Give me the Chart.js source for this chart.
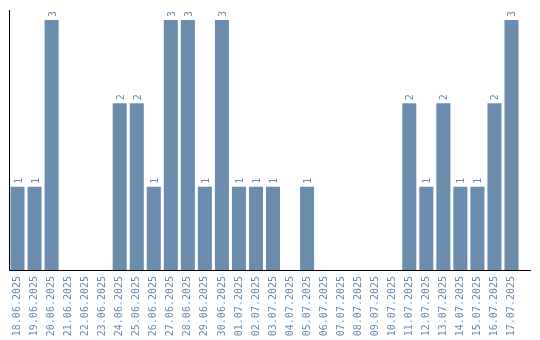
<!DOCTYPE html>
<html>
<head>
<meta charset="utf-8">
<script src="https://cdn.jsdelivr.net/npm/chart.js@4/dist/chart.umd.min.js"></script>
<style>
  html, body { margin: 0; padding: 0; background: #fff; }
  #wrap { width: 540px; height: 340px; position: relative; }
</style>
</head>
<body>
<div id="wrap"><canvas id="grafico"></canvas></div>
<script>
const fechas = ['18.06.2025', '19.06.2025', '20.06.2025', '21.06.2025', '22.06.2025', '23.06.2025',
  '24.06.2025', '25.06.2025', '26.06.2025', '27.06.2025', '28.06.2025', '29.06.2025', '30.06.2025',
  '01.07.2025', '02.07.2025', '03.07.2025', '04.07.2025', '05.07.2025', '06.07.2025', '07.07.2025',
  '08.07.2025', '09.07.2025', '10.07.2025', '11.07.2025', '12.07.2025', '13.07.2025', '14.07.2025',
  '15.07.2025', '16.07.2025', '17.07.2025'];
const cantidades = [1, 1, 3, 0, 0, 0, 2, 2, 1, 3, 3, 1, 3, 1, 1, 1, 0, 1, 0, 0, 0, 0, 0, 2, 1, 2, 1, 1, 2, 3];

const COLOR = '#6a8cad';
const FUENTE = 'DejaVu Sans Mono';

// etiquetas giradas encima de cada barra + eje x algo más largo
const etiquetasBarras = {
  id: 'etiquetasBarras',
  afterDatasetsDraw(chart) {
    const ctx = chart.ctx;
    const meta = chart.getDatasetMeta(0);
    ctx.save();
    ctx.fillStyle = COLOR;
    ctx.font = '10px ' + FUENTE;
    meta.data.forEach((bar, i) => {
      const v = cantidades[i];
      if (!v) return;
      ctx.save();
      ctx.translate(bar.x + 4, bar.y - 3);
      ctx.rotate(-Math.PI / 2);
      ctx.textAlign = 'left';
      ctx.textBaseline = 'alphabetic';
      ctx.fillText(String(v), 0, 0);
      ctx.restore();
    });
    const a = chart.chartArea;
    ctx.strokeStyle = '#000';
    ctx.lineWidth = 1;
    ctx.beginPath();
    ctx.moveTo(a.left, Math.round(a.bottom) + 0.5);
    ctx.lineTo(a.right + 11, Math.round(a.bottom) + 0.5);
    ctx.stroke();
    ctx.restore();
  }
};

new Chart(document.getElementById('grafico'), {
  type: 'bar',
  data: {
    labels: fechas,
    datasets: [{
      data: cantidades,
      backgroundColor: COLOR,
      borderWidth: 0,
      categoryPercentage: 1,
      barPercentage: 14 / 17
    }]
  },
  options: {
    responsive: true,
    maintainAspectRatio: false,
    animation: false,
    layout: { padding: { left: 9, top: 10, right: 20, bottom: 0 } },
    plugins: { legend: { display: false }, tooltip: { enabled: false } },
    scales: {
      x: {
        grid: { display: false, drawTicks: false },
        border: { display: true, color: '#000' },
        ticks: {
          color: COLOR,
          font: { family: FUENTE, size: 10 },
          minRotation: 90,
          maxRotation: 90,
          autoSkip: false,
          padding: 6
        },
        afterFit(scale) { scale.height = 70; }
      },
      y: {
        min: 0,
        max: 3.12,
        grid: { display: false, drawTicks: false },
        border: { display: true, color: '#000' },
        ticks: { display: false }
      }
    }
  },
  plugins: [etiquetasBarras]
});
</script>
</body>
</html>
